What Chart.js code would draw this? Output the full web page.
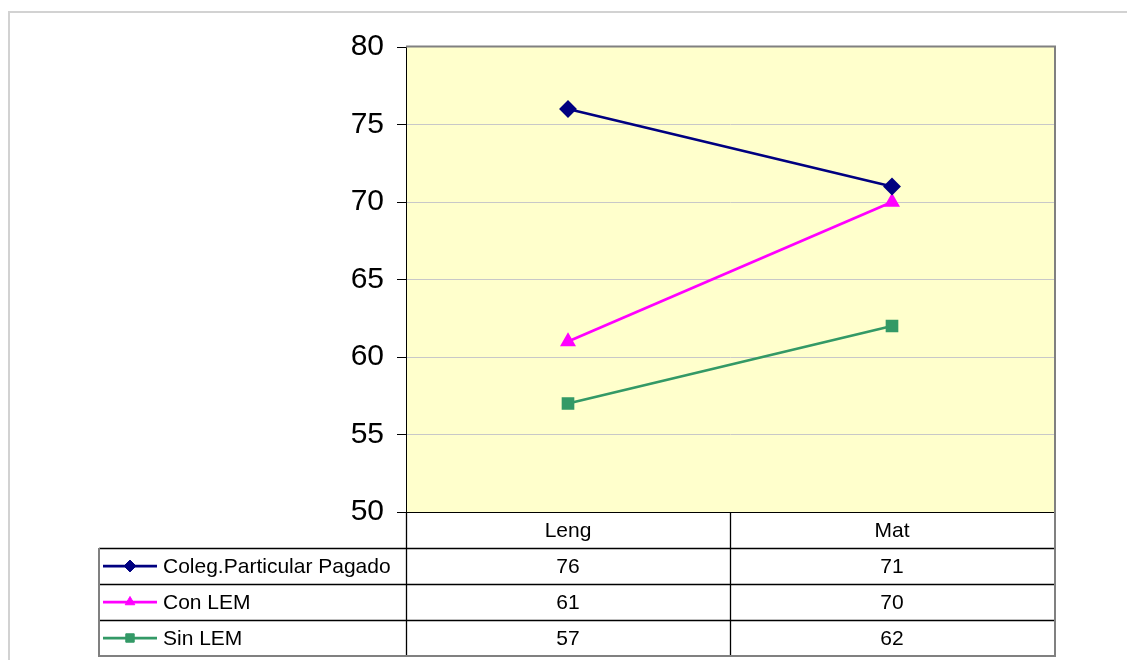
<!DOCTYPE html>
<html>
<head>
<meta charset="utf-8">
<script src="https://cdn.jsdelivr.net/npm/chart.js@4/dist/chart.umd.min.js"></script>
<style>
  html, body { margin: 0; padding: 0; background: #fff; overflow: hidden; }
  #wrap { position: relative; width: 1127px; height: 660px; }
  #frame { position: absolute; left: 8px; top: 11px; width: 1200px; height: 700px;
           border-left: 2px solid #d2d2d2; border-top: 2px solid #d2d2d2; pointer-events: none; }
  canvas { position: absolute; left: 0; top: 0; }
</style>
</head>
<body>
<div id="wrap">
  <div id="frame"></div>
  <canvas id="c" width="1127" height="660"></canvas>
</div>
<script>
// Subjects and average scores per school group
const categories = ['Leng', 'Mat'];
const seriesNames = ['Coleg.Particular Pagado', 'Con LEM', 'Sin LEM'];
const colegPagado = [76, 71];
const conLem = [61, 70];
const sinLem = [57, 62];
const yMin = 50;
const yMax = 80;
const yStep = 5;

const FONT = "'Liberation Sans', Arial, sans-serif";

// Plot area fill and its grey frame on top/right
const plotBackground = {
  id: 'plotBackground',
  beforeDraw(chart) {
    const { ctx, chartArea: a } = chart;
    ctx.save();
    ctx.fillStyle = '#FFFFCC';
    ctx.fillRect(a.left, a.top, a.right - a.left, a.bottom - a.top);
    ctx.restore();
  },
  afterDatasetsDraw(chart) {
    const { ctx, chartArea: a } = chart;
    ctx.save();
    ctx.strokeStyle = '#808080';
    ctx.lineWidth = 2;
    ctx.beginPath();
    ctx.moveTo(a.left, a.top - 0.5);
    ctx.lineTo(a.right + 1, a.top - 0.5);
    ctx.lineTo(a.right + 1, a.bottom);
    ctx.stroke();
    ctx.restore();
  }
};

// Data table under the plot: category header row, then one row per series with legend key
const dataTable = {
  id: 'dataTable',
  afterDraw(chart) {
    const { ctx, chartArea: a } = chart;
    const x = chart.scales.x;
    const rowH = 36;
    const legendLeft = 99;
    const top = a.bottom;
    const nRows = chart.data.datasets.length;
    const bottom = top + rowH * (nRows + 1);
    const half = (x.getPixelForValue(1) - x.getPixelForValue(0)) / 2;

    ctx.save();
    // inner black rules
    ctx.strokeStyle = '#000';
    ctx.lineWidth = 1.3;
    ctx.beginPath();
    ctx.moveTo(a.left + 0.5, top);
    ctx.lineTo(a.left + 0.5, bottom);
    for (let i = 0; i < categories.length - 1; i++) {
      const bx = Math.round(x.getPixelForValue(i) + half) + 0.5;
      ctx.moveTo(bx, top);
      ctx.lineTo(bx, bottom);
    }
    for (let r = 1; r <= nRows; r++) {
      const y = Math.round(top + rowH * r) + 0.5;
      ctx.moveTo(legendLeft, y);
      ctx.lineTo(a.right, y);
    }
    ctx.stroke();

    // outer grey edge
    ctx.strokeStyle = '#808080';
    ctx.lineWidth = 2;
    ctx.beginPath();
    ctx.moveTo(legendLeft, top + rowH);
    ctx.lineTo(legendLeft, bottom);
    ctx.lineTo(a.right + 1, bottom);
    ctx.lineTo(a.right + 1, top);
    ctx.stroke();

    // text
    ctx.fillStyle = '#000';
    ctx.font = '21px ' + FONT;
    ctx.textAlign = 'center';
    ctx.textBaseline = 'middle';
    categories.forEach((c, i) => {
      ctx.fillText(c, x.getPixelForValue(i), top + rowH / 2 + 1);
    });
    chart.data.datasets.forEach((ds, r) => {
      const cy = top + rowH * (r + 1) + rowH / 2 + 1;
      ds.data.forEach((v, i) => {
        ctx.textAlign = 'center';
        ctx.fillText(String(v), x.getPixelForValue(i), cy);
      });
      // legend key
      const ky = cy - 1;
      ctx.strokeStyle = ds.borderColor;
      ctx.lineWidth = 2.75;
      ctx.beginPath();
      ctx.moveTo(103, ky);
      ctx.lineTo(157, ky);
      ctx.stroke();
      ctx.fillStyle = ds.pointBackgroundColor;
      ctx.strokeStyle = ds.pointBorderColor;
      ctx.lineWidth = 1;
      Chart.helpers.drawPoint(ctx, {
        pointStyle: ds.pointStyle,
        radius: ds.pointRadius * 0.85,
        rotation: 0,
        borderWidth: 1
      }, 130, ky);
      ctx.fillStyle = '#000';
      ctx.textAlign = 'left';
      ctx.fillText(ds.label, 163, cy);
    });
    ctx.restore();
  }
};

new Chart(document.getElementById('c'), {
  type: 'line',
  data: {
    labels: categories,
    datasets: [
      {
        label: seriesNames[0], data: colegPagado,
        borderColor: '#000080', backgroundColor: '#000080',
        pointBackgroundColor: '#000080', pointBorderColor: '#000080',
        pointStyle: 'rectRot', pointRadius: 7, borderWidth: 2.75
      },
      {
        label: seriesNames[1], data: conLem,
        borderColor: '#FF00FF', backgroundColor: '#FF00FF',
        pointBackgroundColor: '#FF00FF', pointBorderColor: '#FF00FF',
        pointStyle: 'triangle', pointRadius: 6.5, borderWidth: 2.75
      },
      {
        label: seriesNames[2], data: sinLem,
        borderColor: '#339966', backgroundColor: '#339966',
        pointBackgroundColor: '#339966', pointBorderColor: '#339966',
        pointStyle: 'rect', pointRadius: 7, borderWidth: 2.75
      }
    ]
  },
  options: {
    responsive: false,
    animation: false,
    layout: { padding: { left: 0, top: 47, right: 73, bottom: 148 } },
    elements: { line: { tension: 0 }, point: { borderWidth: 1, hoverRadius: 7 } },
    plugins: { legend: { display: false }, tooltip: { enabled: false } },
    scales: {
      x: { type: 'category', offset: true, display: false },
      y: {
        min: yMin, max: yMax,
        afterFit(scale) { scale.width = 406; },
        ticks: {
          stepSize: yStep, color: '#000', padding: 13,
          font: { family: FONT, size: 30 }
        },
        grid: {
          tickLength: 9,
          tickColor: '#000',
          color: (ctx) => {
            const v = ctx.tick && ctx.tick.value;
            if (v === yMax) return 'rgba(0,0,0,0)';
            if (v === yMin) return '#000';
            return '#c8c8c8';
          }
        },
        border: { display: true, color: '#000', width: 1 }
      }
    }
  },
  plugins: [plotBackground, dataTable]
});
</script>
</body>
</html>
